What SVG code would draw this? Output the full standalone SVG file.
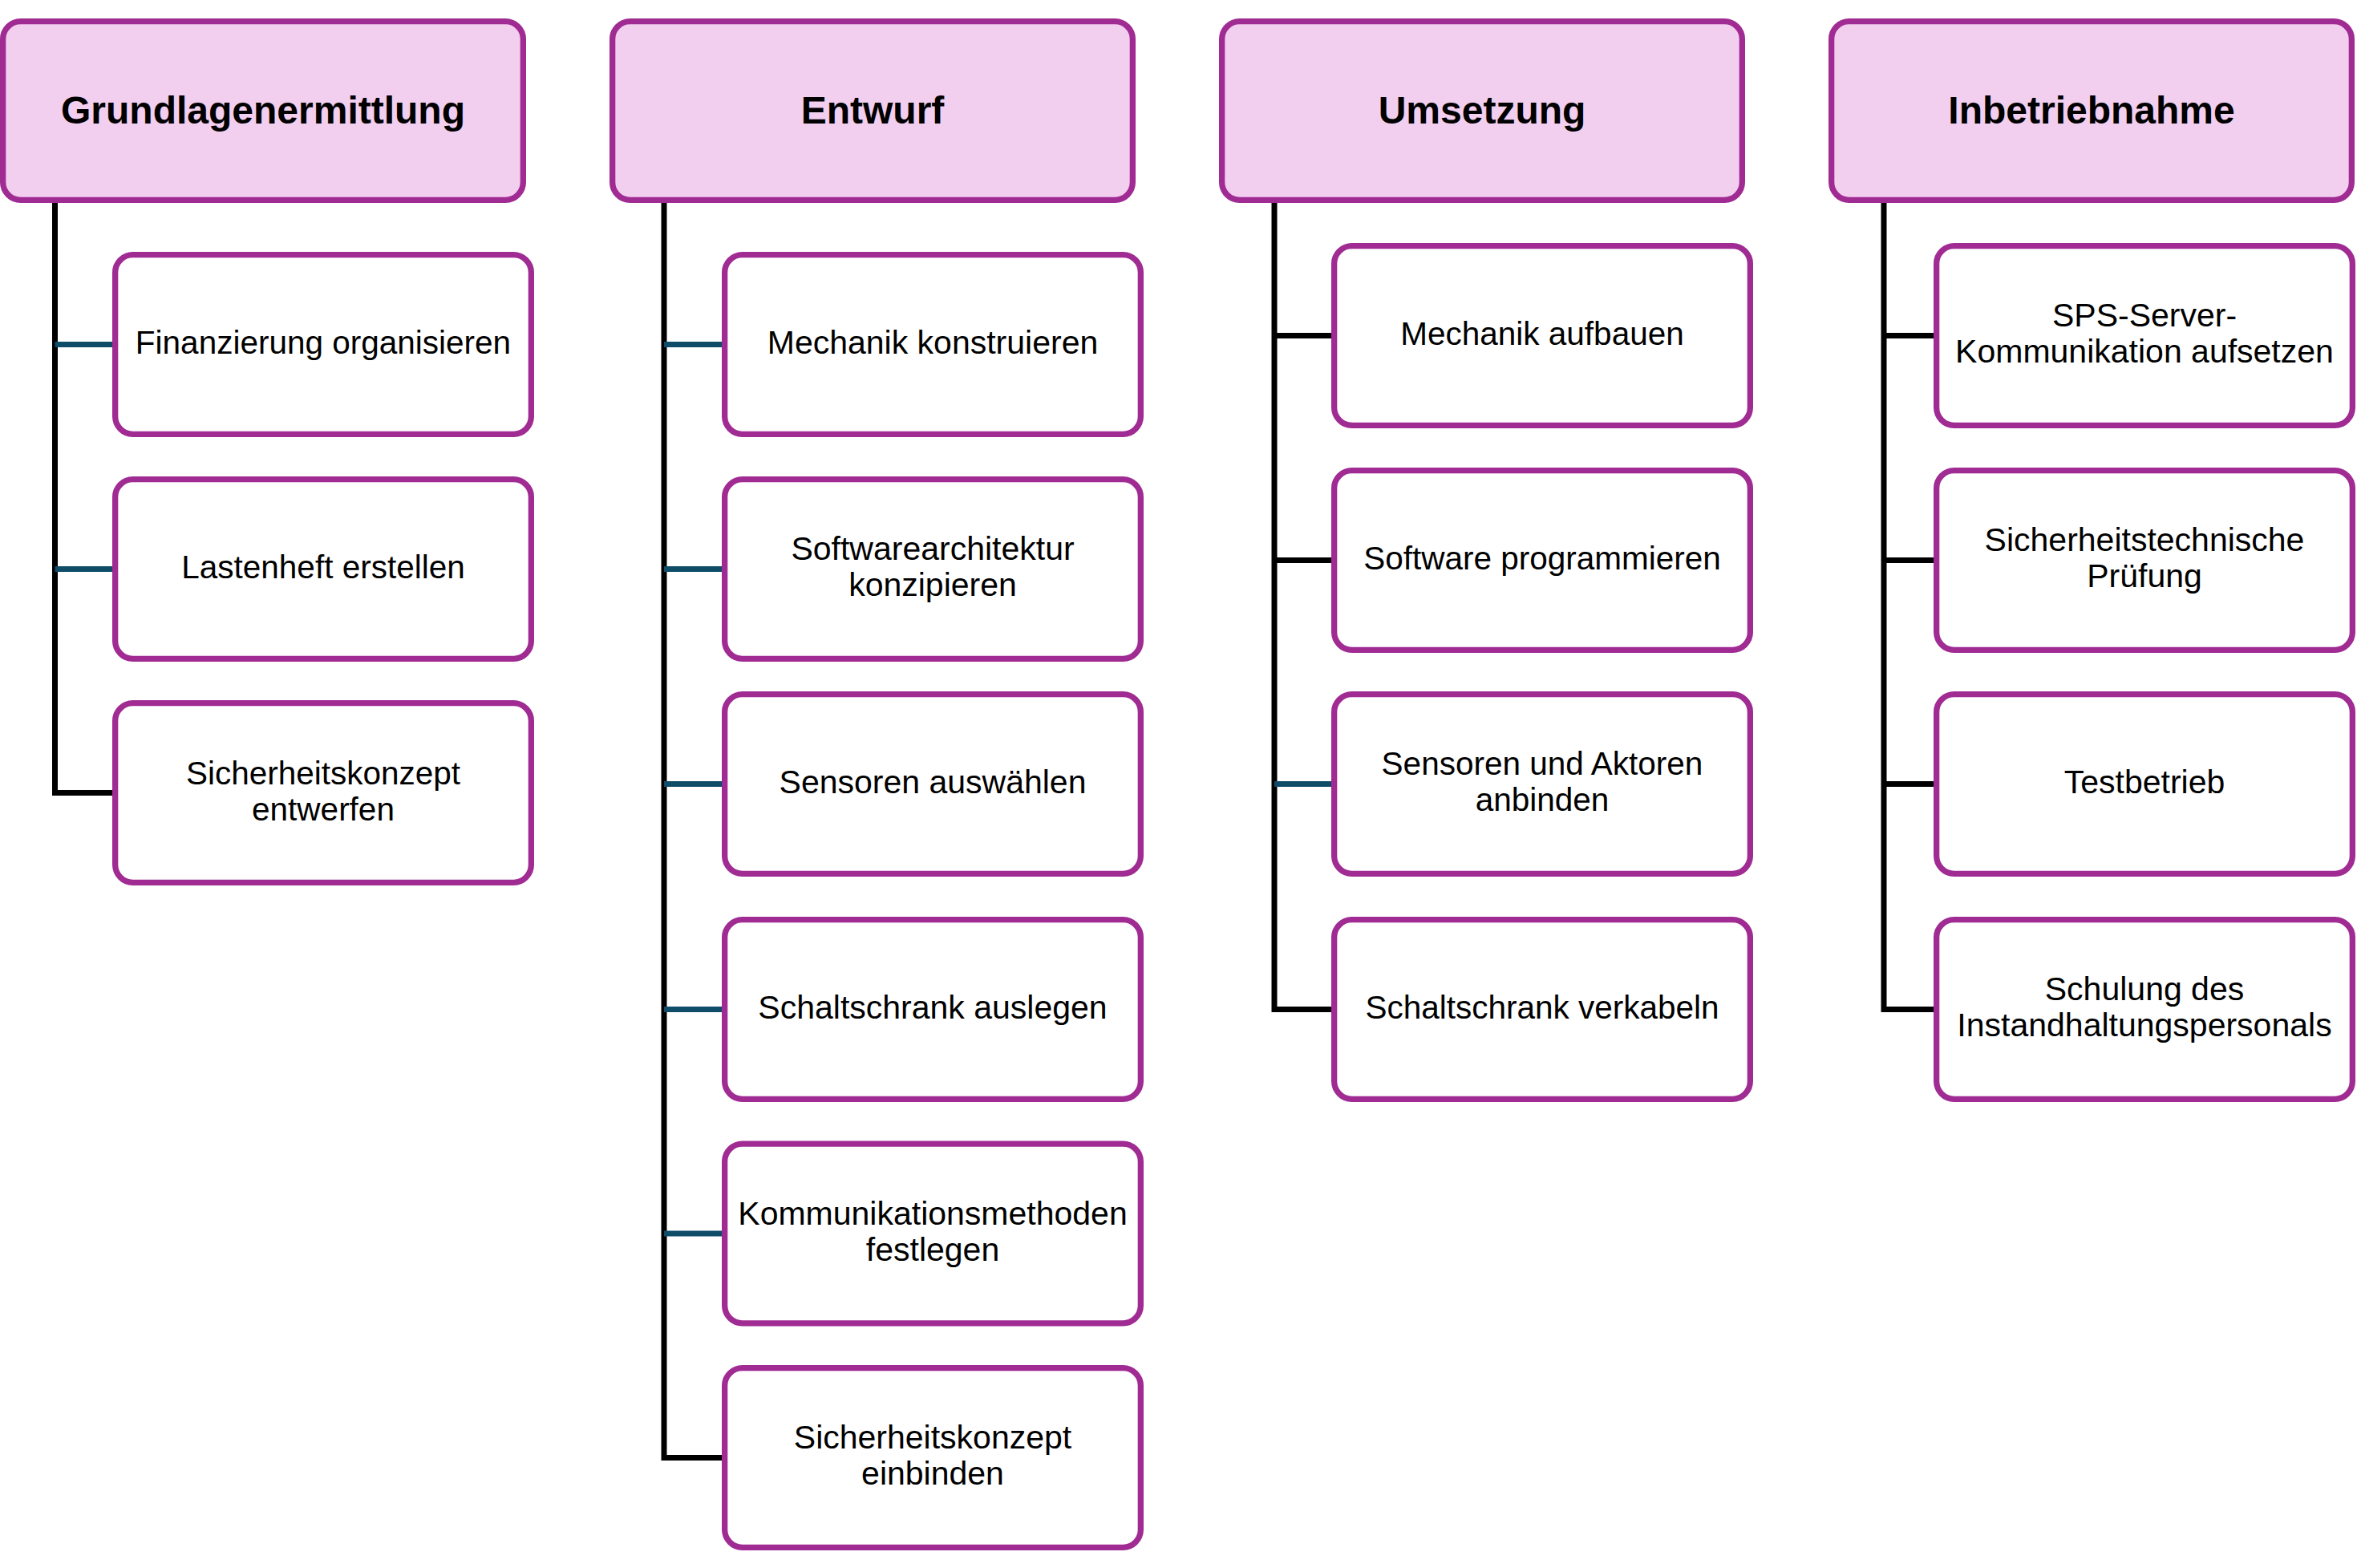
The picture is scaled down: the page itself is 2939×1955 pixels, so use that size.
<svg xmlns="http://www.w3.org/2000/svg" width="2939" height="1955" viewBox="0 0 2939 1955">
<style>
.hdr{fill:#F2CEEF;stroke:#A02B93;stroke-width:7.3}
.box{fill:#FFFFFF;stroke:#A02B93;stroke-width:7.3}
.ht{font-family:"Liberation Sans",Arial,sans-serif;font-weight:bold;font-size:48px;fill:#000;text-anchor:middle}
.bt{font-family:"Liberation Sans",Arial,sans-serif;font-size:40.5px;fill:#000;text-anchor:middle}
.bw{font-size:41px}
.k{fill:none;stroke:#000;stroke-width:7}
.t{fill:none;stroke:#0F4C68;stroke-width:7}
</style>
<rect width="2939" height="1955" fill="#FFFFFF"/>
<g id="connectors">
<path class="k" d="M68.5 250 V988.5 H144"/>
<path class="t" d="M68.5 429.5 H144"/>
<path class="t" d="M68.5 709.5 H144"/>
<path class="k" d="M828 250 V1817.5 H904"/>
<path class="t" d="M828 429.5 H904"/>
<path class="t" d="M828 709.5 H904"/>
<path class="t" d="M828 977.5 H904"/>
<path class="t" d="M828 1258.5 H904"/>
<path class="t" d="M828 1538 H904"/>
<path class="k" d="M1589 250 V1258.5 H1664"/>
<path class="k" d="M1589 418.5 H1664"/>
<path class="k" d="M1589 698.5 H1664"/>
<path class="t" d="M1589 977.5 H1664"/>
<path class="k" d="M2349 250 V1258.5 H2415"/>
<path class="k" d="M2349 418.5 H2415"/>
<path class="k" d="M2349 698.5 H2415"/>
<path class="k" d="M2349 977.5 H2415"/>
</g>
<g id="h1"><rect class="hdr" x="3.65" y="26.65" width="648.7" height="222.7" rx="22"/><text class="ht" x="328" y="154">Grundlagenermittlung</text></g>
<g id="h2"><rect class="hdr" x="763.65" y="26.65" width="648.7" height="222.7" rx="22"/><text class="ht" x="1088" y="154">Entwurf</text></g>
<g id="h3"><rect class="hdr" x="1523.65" y="26.65" width="648.7" height="222.7" rx="22"/><text class="ht" x="1848" y="154">Umsetzung</text></g>
<g id="h4"><rect class="hdr" x="2283.65" y="26.65" width="648.7" height="222.7" rx="22"/><text class="ht" x="2608" y="154">Inbetriebnahme</text></g>

<g id="n1a"><rect class="box" x="143.65" y="317.65" width="518.7" height="223.7" rx="22"/><text class="bt" x="403" y="441">Finanzierung organisieren</text></g>
<g id="n1b"><rect class="box" x="143.65" y="597.65" width="518.7" height="223.7" rx="22"/><text class="bt" x="403" y="721">Lastenheft erstellen</text></g>
<g id="n1c"><rect class="box" x="143.65" y="876.65" width="518.7" height="223.7" rx="22"/><text class="bt" x="403" y="978">Sicherheitskonzept</text><text class="bt" x="403" y="1023">entwerfen</text></g>

<g id="n2a"><rect class="box" x="903.65" y="317.65" width="518.7" height="223.7" rx="22"/><text class="bt bw" x="1163" y="441">Mechanik konstruieren</text></g>
<g id="n2b"><rect class="box" x="903.65" y="597.65" width="518.7" height="223.7" rx="22"/><text class="bt bw" x="1163" y="698">Softwarearchitektur</text><text class="bt bw" x="1163" y="743">konzipieren</text></g>
<g id="n2c"><rect class="box" x="903.65" y="865.65" width="518.7" height="223.7" rx="22"/><text class="bt bw" x="1163" y="989">Sensoren auswählen</text></g>
<g id="n2d"><rect class="box" x="903.65" y="1146.65" width="518.7" height="223.7" rx="22"/><text class="bt bw" x="1163" y="1270">Schaltschrank auslegen</text></g>
<g id="n2e"><rect class="box" x="903.65" y="1426.15" width="518.7" height="223.7" rx="22"/><text class="bt bw" x="1163" y="1527">Kommunikationsmethoden</text><text class="bt bw" x="1163" y="1572">festlegen</text></g>
<g id="n2f"><rect class="box" x="903.65" y="1705.65" width="518.7" height="223.7" rx="22"/><text class="bt bw" x="1163" y="1806">Sicherheitskonzept</text><text class="bt bw" x="1163" y="1851">einbinden</text></g>

<g id="n3a"><rect class="box" x="1663.65" y="306.65" width="518.7" height="223.7" rx="22"/><text class="bt" x="1923" y="430">Mechanik aufbauen</text></g>
<g id="n3b"><rect class="box" x="1663.65" y="586.65" width="518.7" height="223.7" rx="22"/><text class="bt" x="1923" y="710">Software programmieren</text></g>
<g id="n3c"><rect class="box" x="1663.65" y="865.65" width="518.7" height="223.7" rx="22"/><text class="bt" x="1923" y="966">Sensoren und Aktoren</text><text class="bt" x="1923" y="1011">anbinden</text></g>
<g id="n3d"><rect class="box" x="1663.65" y="1146.65" width="518.7" height="223.7" rx="22"/><text class="bt" x="1923" y="1270">Schaltschrank verkabeln</text></g>

<g id="n4a"><rect class="box" x="2414.65" y="306.65" width="518.7" height="223.7" rx="22"/><text class="bt bw" x="2674" y="407">SPS-Server-</text><text class="bt bw" x="2674" y="452">Kommunikation aufsetzen</text></g>
<g id="n4b"><rect class="box" x="2414.65" y="586.65" width="518.7" height="223.7" rx="22"/><text class="bt bw" x="2674" y="687">Sicherheitstechnische</text><text class="bt bw" x="2674" y="732">Prüfung</text></g>
<g id="n4c"><rect class="box" x="2414.65" y="865.65" width="518.7" height="223.7" rx="22"/><text class="bt bw" x="2674" y="989">Testbetrieb</text></g>
<g id="n4d"><rect class="box" x="2414.65" y="1146.65" width="518.7" height="223.7" rx="22"/><text class="bt bw" x="2674" y="1247">Schulung des</text><text class="bt bw" x="2674" y="1292">Instandhaltungspersonals</text></g>
</svg>
